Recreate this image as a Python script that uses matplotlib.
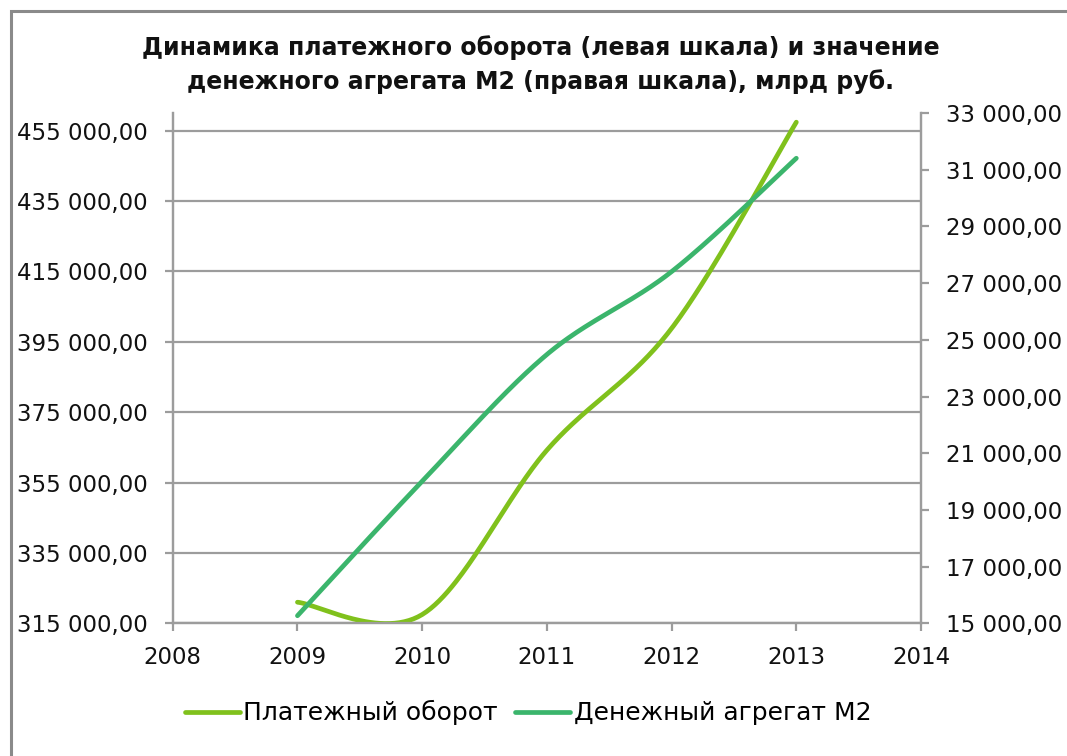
import numpy as np
import matplotlib
matplotlib.use("Agg")
import matplotlib.pyplot as plt
from matplotlib.ticker import FuncFormatter, FixedLocator
from matplotlib.patches import Rectangle

years = [2009, 2010, 2011, 2012, 2013]
turnover = [321000, 317500, 364200, 398800, 457400]
m2 = [15267.6, 20011.9, 24483.1, 27405.4, 31404.7]

title = "Динамика платежного оборота (левая шкала) и значение\nденежного агрегата М2 (правая шкала), млрд руб."
label_turnover = "Платежный оборот"
label_m2 = "Денежный агрегат М2"

left_ticks = list(range(315000, 455001, 20000))
right_ticks = list(range(15000, 33001, 2000))
x_ticks = list(range(2008, 2015))

C_TURN = "#80C11C"
C_M2 = "#3BB56C"
GRID = "#9C9C9C"

plt.rcParams['font.family'] = ['DejaVu Sans']


def smooth(x, y, n=60):
    """Excel-like smoothed line: cubic Bezier with Catmull-Rom control points."""
    x = np.asarray(x, float)
    y = np.asarray(y, float)
    P = np.column_stack([x, y])
    pts = np.vstack([P[0], P, P[-1]])
    out = []
    t = np.linspace(0, 1, n)[:, None]
    for i in range(1, len(pts) - 2):
        p0, p1, p2, p3 = pts[i - 1], pts[i], pts[i + 1], pts[i + 2]
        c1 = p1 + (p2 - p0) / 6.0
        c2 = p2 - (p3 - p1) / 6.0
        seg = ((1 - t) ** 3) * p1 + 3 * ((1 - t) ** 2) * t * c1 + 3 * (1 - t) * t ** 2 * c2 + t ** 3 * p2
        out.append(seg if i == 1 else seg[1:])
    s = np.vstack(out)
    return s[:, 0], s[:, 1]


def fmt(v, pos=None):
    return f"{v:,.2f}".replace(",", " ").replace(".", ",")


fig = plt.figure(figsize=(10.67, 7.56), dpi=100)
ax = fig.add_axes([0.1619, 0.1755, 0.8632 - 0.1619, 0.8505 - 0.1755])
ax2 = ax.twinx()

fig.patches.append(Rectangle((11 / 1067, -0.05), 1.2, 1 - 11 / 756 + 0.05,
                             transform=fig.transFigure, fill=False,
                             edgecolor="#8A8A8A", linewidth=2.2))

xs, ys = smooth(years, turnover)
l1, = ax.plot(xs, ys, color=C_TURN, lw=3.4, solid_capstyle="round", label=label_turnover, zorder=3)
xs2, ys2 = smooth(years, m2)
l2, = ax2.plot(xs2, ys2, color=C_M2, lw=3.4, solid_capstyle="round", label=label_m2, zorder=3)

ax.set_xlim(2008, 2014)
ax.set_ylim(315000, 460000)
ax2.set_ylim(15000, 33000)

ax.xaxis.set_major_locator(FixedLocator(x_ticks))
ax.set_xticklabels([str(v) for v in x_ticks])
ax.yaxis.set_major_locator(FixedLocator(left_ticks))
ax2.yaxis.set_major_locator(FixedLocator(right_ticks))
ax.yaxis.set_major_formatter(FuncFormatter(fmt))
ax2.yaxis.set_major_formatter(FuncFormatter(fmt))

ax.grid(axis="y", color=GRID, lw=1.6)
ax.set_axisbelow(True)

for a in (ax, ax2):
    a.spines["top"].set_visible(False)
    for s in ("left", "right", "bottom"):
        a.spines[s].set_color(GRID)
        a.spines[s].set_linewidth(1.6)

ax.tick_params(axis="both", colors=GRID, width=1.6, length=6, labelsize=16.5, labelcolor="#111111", pad=12)
ax2.tick_params(axis="y", colors=GRID, width=1.6, length=6, labelsize=16.5, labelcolor="#111111", pad=12)
ax.tick_params(axis="x", pad=10)

fig.text(0.507, 0.915, title, ha="center", va="center", fontsize=17, fontweight="bold",
         linespacing=1.45, color="#111111")

fig.legend([l1, l2], [label_turnover, label_m2], loc="center", bbox_to_anchor=(0.495, 0.057),
           ncol=2, frameon=False, fontsize=18, handlelength=2.2, handletextpad=0.15,
           columnspacing=0.7)

fig.savefig("out.png", dpi=100)
